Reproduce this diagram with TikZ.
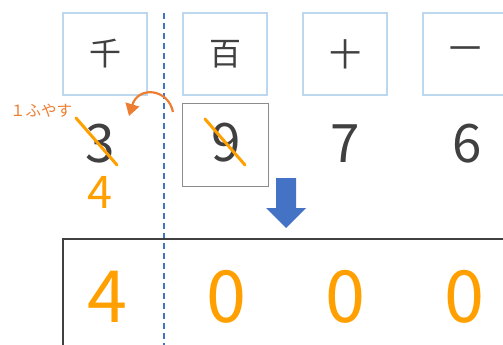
\documentclass[tikz,border=0pt]{standalone}
\usepackage{fontspec}
\setmainfont{Noto Sans CJK JP}
\usetikzlibrary{arrows.meta}
\definecolor{hdrblue}{HTML}{BDD7EE}
\definecolor{lineblue}{HTML}{4472C4}
\definecolor{digitgray}{HTML}{404040}
\definecolor{boxgray}{HTML}{8C8C8C}
\definecolor{strikeorange}{HTML}{FFA000}
\definecolor{noteorange}{HTML}{ED7D31}
\tikzset{
  hdrbox/.style={draw=hdrblue, line width=2pt, minimum width=84pt, minimum height=82pt, inner sep=0pt, text=digitgray, font=\fontsize{32}{32}\selectfont},
  middigit/.style={anchor=base, inner sep=0pt, text=digitgray, font=\fontsize{53}{53}\selectfont},
  newdigit/.style={anchor=base, inner sep=0pt, text=strikeorange, font=\fontsize{45}{45}\selectfont},
  resdigit/.style={anchor=base, inner sep=0pt, text=strikeorange, font=\fontsize{72}{72}\selectfont},
  strike/.style={draw=strikeorange, line width=3pt, line cap=round},
  graybox/.style={draw=boxgray, line width=1.8pt, minimum width=86pt, minimum height=83pt, inner sep=0pt},
}
\begin{document}
\begin{tikzpicture}[x=1pt,y=-1pt]
\useasboundingbox (0,0) rectangle (503,345);
% header boxes
\node[hdrbox] (h1) at (105,54) {千};
\node[hdrbox] (h2) at (225,54) {百};
\node[hdrbox] (h3) at (345,54) {十};
\node[hdrbox] (h4) at (465,54) {一};
% dashed divider
\coordinate (dtop) at (164,13);
\coordinate (dbot) at (164,350);
\draw[lineblue, line width=1.5pt, dash pattern=on 6pt off 4pt] (dtop) -- (dbot);
% gray box around 9
\node[graybox] (gb) at (225.5,145) {};
% digits
\node[middigit] (d3) at (100,162) {3};
\node[middigit] (d9) at (226,161) {9};
\node[middigit] (d7) at (345,162) {7};
\node[middigit] (d6) at (467,162) {6};
\node[newdigit] (n4) at (100,208) {4};
% strikes
\coordinate (s1a) at (76,118); \coordinate (s1b) at (117,165);
\coordinate (s2a) at (205,119); \coordinate (s2b) at (245,165);
\draw[strike] (s1a) -- (s1b);
\draw[strike] (s2a) -- (s2b);
% note
\node[text=noteorange, font=\fontsize{15.5}{15.5}\selectfont, inner sep=0pt] (note) at (41,111) {１ふやす};
\coordinate (ca) at (173,112);
\coordinate (cb) at (129,116);
\draw[noteorange, line width=2.2pt, -{Triangle[length=12pt,width=14pt]}] (ca) .. controls (168,88) and (138,86) .. (cb);
% blue arrow
\fill[lineblue] (276,178) -- (296,178) -- (296,208) -- (306,208) -- (286,228) -- (266,208) -- (276,208) -- cycle;
% result box
\coordinate (rb1) at (63,350);
\coordinate (rb2) at (63,239);
\coordinate (rb3) at (510,239);
\draw[digitgray, line width=2.5pt] (rb1) -- (rb2) -- (rb3);
\node[resdigit] (r1) at (107,322) {4};
\node[resdigit] (r2) at (226,322) {0};
\node[resdigit] (r3) at (345,322) {0};
\node[resdigit] (r4) at (464,322) {0};
\end{tikzpicture}
\end{document}
